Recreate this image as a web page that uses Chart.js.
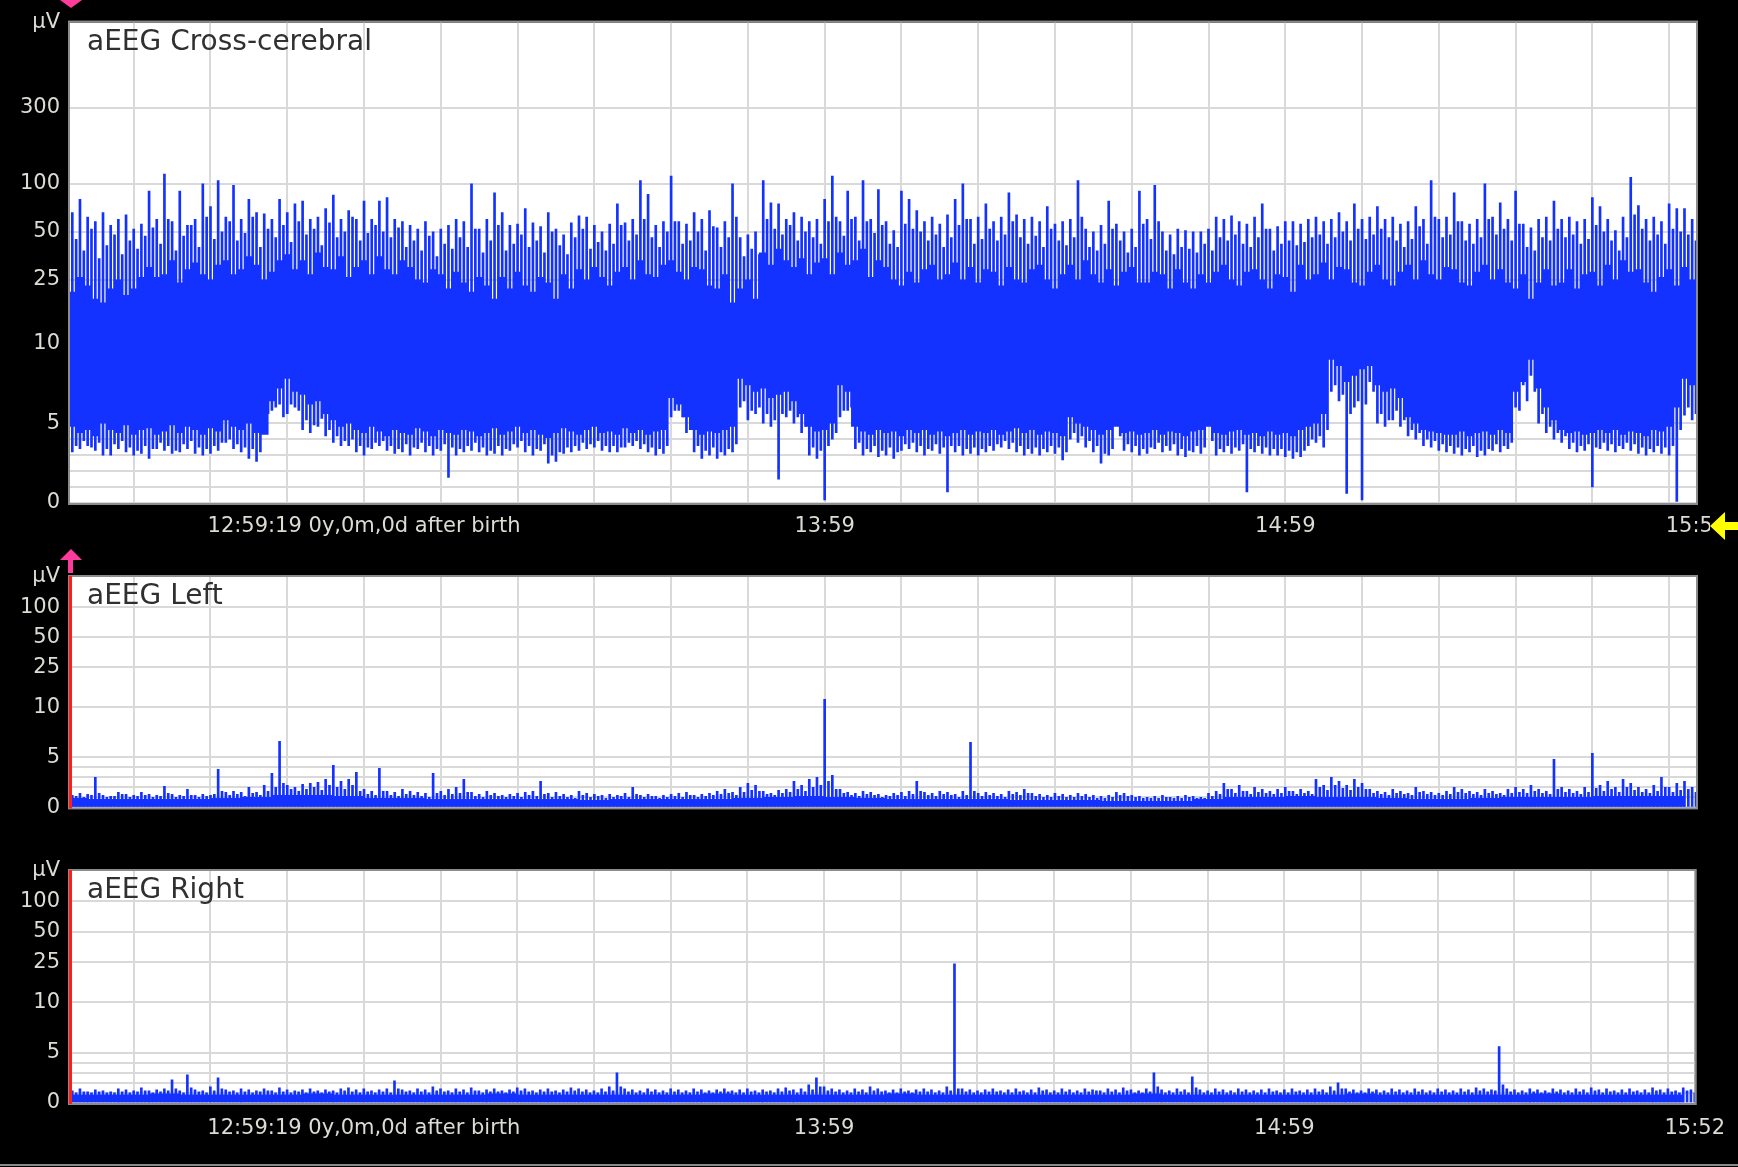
<!DOCTYPE html>
<html>
<head>
<meta charset="utf-8">
<title>aEEG trend</title>
<script src="https://cdn.jsdelivr.net/npm/chart.js@4/dist/chart.umd.min.js"></script>
<style>
  html, body { margin: 0; padding: 0; background: #000; overflow: hidden; }
  body { width: 1738px; height: 1167px; position: relative; }
  canvas { position: absolute; left: 0; }
</style>
</head>
<body>
<canvas id="crossChart" width="1738" height="540" style="top:0"></canvas>
<canvas id="leftChart" width="1738" height="290" style="top:540px"></canvas>
<canvas id="rightChart" width="1738" height="337" style="top:830px"></canvas>
<script>
// minutes relative to 12:59:19, one sample per minute from -38
const startMinute = -38;

const xGridMinutes = [-30, -20, -10, 0, 10, 20, 30, 40, 50, 60, 70, 80, 90, 100, 110, 120, 130, 140, 150, 160, 170, 173.5];
const xLabelMinutes = [0, 60, 120, 173.5];
const xLabelTexts = ["12:59:19 0y,0m,0d after birth", "13:59", "14:59", "15:52"];

const crossTicks = [0, 1, 2, 3, 4, 5, 10, 25, 50, 100, 300, 1025];
const crossTickLabels = [0, 5, 10, 25, 50, 100, 300];
const sideTicks = [0, 1, 2, 3, 4, 5, 10, 25, 50, 100, 200];
const sideTickLabels = [0, 5, 10, 25, 50, 100];

// aEEG Cross-cerebral (µV)
// tallest / lowest column in each minute
const crossHi = [
  66, 80, 62, 58, 66, 55, 60, 64, 52, 56,
  90, 60, 115, 58, 90, 55, 60, 100, 72, 105,
  62, 98, 60, 80, 66, 65, 60, 80, 66, 75,
  78, 60, 62, 70, 85, 60, 68, 60, 78, 60,
  78, 82, 60, 58, 55, 52, 58, 50, 52, 55,
  60, 58, 100, 52, 60, 88, 66, 55, 56, 70,
  57, 54, 66, 52, 48, 57, 63, 62, 55, 50,
  56, 75, 57, 60, 105, 86, 55, 58, 112, 58,
  56, 66, 60, 68, 53, 58, 100, 46, 48, 50,
  105, 76, 75, 60, 66, 62, 58, 60, 80, 112,
  58, 90, 62, 105, 60, 92, 58, 51, 90, 80,
  68, 58, 62, 56, 64, 80, 100, 60, 62, 75,
  58, 62, 88, 64, 60, 62, 58, 72, 56, 58,
  60, 105, 52, 50, 55, 78, 56, 50, 52, 90,
  60, 98, 50, 48, 52, 51, 50, 50, 52, 62,
  60, 63, 58, 56, 62, 75, 52, 54, 58, 58,
  56, 60, 62, 58, 60, 66, 58, 75, 60, 62,
  72, 60, 62, 56, 58, 72, 60, 105, 60, 62,
  88, 58, 56, 60, 100, 62, 76, 60, 90, 56,
  53, 60, 62, 78, 60, 62, 58, 60, 82, 72,
  60, 51, 62, 110, 73, 60, 62, 58, 75, 70,
  70, 60
];
const crossLo = [
  3.2, 3.4, 3.6, 3.3, 3.0, 3.0, 3.4, 3.2, 3.0, 3.1,
  2.8, 3.4, 3.3, 3.1, 3.2, 3.4, 3.1, 3.0, 3.1, 3.3,
  3.8, 3.4, 3.2, 2.8, 2.6, 5.2, 5.8, 6.2, 5.6, 6.0,
  4.6, 4.4, 4.8, 4.2, 3.8, 3.6, 3.6, 3.2, 3.0, 3.4,
  3.6, 3.3, 3.1, 3.2, 3.0, 3.4, 3.2, 3.0, 3.3, 1.6,
  3.0, 3.2, 3.3, 3.2, 3.0, 3.1, 3.0, 3.3, 3.5, 3.2,
  3.0, 3.3, 2.5, 2.6, 3.1, 3.2, 3.3, 3.4, 3.5, 3.3,
  3.2, 3.2, 3.5, 3.6, 3.4, 3.2, 3.0, 3.1, 5.4, 5.8,
  4.4, 3.2, 2.8, 3.0, 2.8, 3.0, 3.2, 6.0, 5.2, 5.6,
  5.0, 4.8, 1.5, 5.4, 5.0, 4.4, 3.0, 2.8, 0.2, 4.0,
  5.4, 5.8, 3.4, 3.0, 3.2, 2.9, 3.0, 2.8, 3.3, 3.4,
  3.2, 3.0, 3.3, 3.1, 0.7, 3.2, 3.0, 3.1, 3.0, 3.2,
  3.3, 3.5, 3.4, 3.2, 3.0, 3.1, 3.0, 3.2, 3.1, 2.7,
  4.0, 3.8, 3.5, 3.2, 2.5, 3.0, 5.8, 3.3, 3.2, 3.0,
  3.1, 3.4, 3.2, 3.3, 3.0, 2.9, 3.2, 3.1, 6.2, 3.0,
  3.2, 3.1, 3.3, 0.7, 3.2, 3.1, 3.0, 3.0, 2.9, 2.8,
  2.9, 3.6, 3.8, 3.5, 7.0, 6.4, 0.6, 6.0, 0.2, 7.6,
  5.0, 4.8, 5.2, 4.8, 4.2, 4.0, 3.6, 3.5, 3.3, 3.2,
  3.1, 3.0, 3.2, 2.9, 3.0, 3.3, 3.2, 3.4, 6.0, 7.4,
  8.0, 5.0, 4.4, 4.0, 3.8, 3.4, 3.2, 3.3, 1.0, 3.4,
  3.3, 3.2, 3.4, 3.3, 3.1, 3.0, 3.2, 3.1, 3.0, 0.1,
  5.5, 5.2
];
// in-between columns, half a minute later
const crossHiB = [
  45, 38, 52, 34, 41, 48, 36, 44, 39, 47,
  53, 42, 60, 38, 47, 55, 40, 62, 45, 50,
  58, 44, 49, 62, 40, 52, 46, 55, 43, 58,
  48, 52, 41, 57, 46, 50, 62, 44, 49, 55,
  50, 46, 53, 40, 44, 38, 47, 35, 42, 39,
  46, 40, 52, 37, 44, 55, 38, 42, 48, 40,
  44, 37, 50, 41, 36, 46, 52, 39, 43, 38,
  42, 55, 44, 48, 60, 46, 40, 50, 58, 42,
  44, 50, 38, 54, 40, 46, 62, 35, 39, 36,
  60, 52, 48, 55, 44, 50, 46, 42, 58, 62,
  47, 60, 44, 58, 49, 55, 42, 40, 56, 52,
  50, 44, 48, 40, 46, 55, 60, 42, 45, 52,
  44, 48, 58, 46, 42, 47, 40, 52, 44, 41,
  46, 62, 40, 38, 42, 52, 44, 37, 40, 56,
  45, 58, 38, 36, 40, 39, 37, 42, 38, 46,
  44, 48, 42, 40, 46, 52, 38, 42, 44, 41,
  43, 46, 48, 42, 46, 50, 44, 52, 45, 48,
  52, 46, 44, 40, 45, 54, 42, 62, 46, 48,
  58, 44, 42, 46, 60, 48, 52, 44, 56, 40,
  38, 46, 44, 52, 46, 48, 42, 45, 55, 50,
  44, 38, 46, 64, 52, 44, 48, 42, 52, 50,
  48, 44
];
const crossLoB = [
  3.6, 3.9, 3.5, 3.8, 3.4, 3.7, 3.9, 3.5, 3.3, 3.6,
  3.4, 3.8, 3.6, 3.3, 3.7, 3.9, 3.5, 3.4, 3.6, 3.8,
  4.0, 3.7, 3.5, 3.4, 3.2, 5.6, 6.0, 5.4, 6.2, 5.8,
  5.2, 4.9, 5.3, 4.6, 4.2, 3.9, 4.0, 3.6, 3.5, 3.8,
  3.9, 3.6, 3.4, 3.7, 3.5, 3.8, 3.6, 3.4, 3.7, 3.5,
  3.4, 3.6, 3.8, 3.5, 3.3, 3.6, 3.4, 3.7, 3.9, 3.6,
  3.4, 3.7, 3.0, 3.2, 3.5, 3.6, 3.8, 3.7, 3.9, 3.6,
  3.6, 3.5, 3.8, 3.9, 3.7, 3.5, 3.4, 3.6, 5.8, 5.4,
  4.6, 3.6, 3.3, 3.5, 3.2, 3.4, 3.7, 6.4, 5.8, 6.0,
  5.6, 5.2, 5.6, 5.8, 5.4, 4.8, 3.5, 3.3, 3.6, 4.4,
  5.8, 6.0, 3.8, 3.4, 3.6, 3.3, 3.5, 3.2, 3.7, 3.8,
  3.6, 3.4, 3.7, 3.5, 3.6, 3.6, 3.4, 3.5, 3.4, 3.6,
  3.7, 3.9, 3.8, 3.6, 3.4, 3.5, 3.4, 3.6, 3.5, 3.2,
  4.4, 4.2, 3.9, 3.6, 3.1, 3.4, 4.2, 3.7, 3.6, 3.4,
  3.5, 3.8, 3.6, 3.7, 3.4, 3.3, 3.6, 3.5, 3.9, 3.4,
  3.6, 3.5, 3.7, 3.4, 3.6, 3.5, 3.4, 3.4, 3.3, 3.2,
  3.3, 4.0, 4.2, 4.6, 7.4, 6.8, 5.6, 6.4, 6.2, 7.0,
  5.6, 5.2, 5.8, 5.2, 4.6, 4.4, 4.0, 3.9, 3.7, 3.6,
  3.5, 3.4, 3.6, 3.3, 3.4, 3.7, 3.6, 3.8, 5.8, 6.4,
  7.0, 5.6, 4.8, 4.4, 4.2, 3.8, 3.6, 3.7, 3.5, 3.8,
  3.7, 3.6, 3.8, 3.7, 3.5, 3.4, 3.6, 3.5, 3.6, 4.6,
  6.0, 5.6
];
// solid part of the band, per minute
const crossCoreHi = [
  21, 26, 23, 19, 18, 22, 25, 20, 22, 26,
  30, 26, 27, 33, 24, 29, 32, 27, 25, 31,
  33, 27, 29, 35, 31, 25, 28, 33, 36, 29,
  33, 27, 37, 30, 29, 35, 26, 30, 33, 27,
  35, 29, 27, 33, 30, 25, 24, 29, 27, 22,
  28, 24, 21, 26, 23, 19, 26, 22, 28, 23,
  21, 26, 24, 19, 27, 22, 29, 25, 30, 26,
  23, 28, 30, 25, 33, 27, 26, 31, 33, 28,
  25, 30, 29, 23, 22, 27, 18, 22, 25, 19,
  37, 31, 39, 33, 30, 34, 27, 32, 34, 27,
  37, 31, 33, 39, 26, 33, 30, 25, 23, 28,
  24, 29, 31, 25, 27, 32, 25, 30, 24, 29,
  28, 23, 30, 25, 24, 29, 31, 25, 22, 27,
  31, 25, 33, 27, 24, 29, 23, 28, 30, 24,
  24, 28, 27, 22, 29, 24, 22, 27, 24, 28,
  31, 25, 23, 28, 29, 25, 22, 27, 26, 21,
  31, 25, 27, 32, 25, 30, 29, 24, 23, 28,
  31, 25, 23, 28, 31, 25, 33, 27, 25, 30,
  29, 24, 23, 28, 31, 25, 29, 24, 22, 27,
  19, 24, 29, 23, 24, 29, 22, 27, 28, 23,
  31, 25, 33, 28, 29, 24, 21, 26, 29, 23,
  30, 25
];
const crossCoreLo = [
  4.8, 4.4, 4.6, 4.2, 5.0, 4.6, 4.4, 4.9, 4.3, 4.6,
  4.7, 4.3, 4.5, 4.9, 4.4, 4.8, 4.6, 4.3, 4.7, 4.5,
  5.2, 4.8, 4.6, 5.0, 4.4, 4.3, 6.4, 7.2, 7.8, 7.0,
  6.8, 6.2, 6.4, 5.6, 5.2, 4.8, 5.0, 4.6, 4.4, 4.8,
  4.5, 4.2, 4.6, 4.4, 4.3, 4.7, 4.5, 4.2, 4.6, 4.4,
  4.3, 4.6, 4.5, 4.2, 4.4, 4.7, 4.3, 4.5, 4.8, 4.4,
  4.6, 4.3, 4.1, 4.4, 4.7, 4.5, 4.3, 4.6, 4.8, 4.4,
  4.5, 4.3, 4.7, 4.4, 4.6, 4.3, 4.5, 4.6, 6.6, 6.2,
  5.4, 4.6, 4.3, 4.5, 4.4, 4.6, 4.8, 7.8, 7.4, 7.0,
  7.2, 6.6, 6.8, 7.0, 6.4, 5.6, 4.8, 4.5, 4.6, 5.0,
  7.4, 7.0, 4.8, 4.5, 4.3, 4.6, 4.4, 4.5, 4.2, 4.6,
  4.4, 4.6, 4.3, 4.5, 4.2, 4.4, 4.6, 4.3, 4.5, 4.4,
  4.6, 4.3, 4.5, 4.7, 4.4, 4.6, 4.3, 4.5, 4.4, 4.2,
  5.4, 5.0, 4.8, 4.6, 4.3, 4.6, 4.8, 4.4, 4.5, 4.3,
  4.4, 4.6, 4.3, 4.5, 4.4, 4.2, 4.5, 4.6, 4.8, 4.4,
  4.3, 4.5, 4.6, 4.3, 4.4, 4.2, 4.5, 4.3, 4.4, 4.2,
  4.6, 4.8, 5.0, 5.6, 9.0, 8.6, 7.6, 8.0, 8.4, 8.6,
  7.4, 7.0, 7.2, 6.6, 5.4, 5.0, 4.6, 4.5, 4.4, 4.3,
  4.3, 4.5, 4.2, 4.4, 4.5, 4.3, 4.6, 4.4, 7.0, 7.6,
  9.0, 7.2, 6.0, 5.2, 4.6, 4.4, 4.5, 4.3, 4.4, 4.6,
  4.4, 4.6, 4.3, 4.5, 4.4, 4.2, 4.6, 4.5, 4.8, 6.0,
  7.8, 7.4
];

// aEEG Left, per-minute max, in-between columns and 4-minute floor (µV)
const leftHi = [
  1.2, 1.4, 1.3, 3.0, 1.2, 1.1, 1.5, 1.3, 1.2, 1.5,
  1.3, 1.2, 2.1, 1.3, 1.2, 1.8, 1.2, 1.3, 1.2, 3.8,
  1.5, 1.6, 1.5, 2.0, 1.5, 2.2, 3.4, 6.6, 2.2, 2.0,
  2.3, 2.4, 2.5, 2.8, 4.2, 2.6, 2.8, 3.5, 1.8, 1.6,
  3.9, 1.6, 1.5, 1.8, 1.6, 1.5, 1.4, 3.4, 1.6, 1.8,
  2.0, 2.8, 1.5, 1.3, 1.6, 1.4, 1.2, 1.3, 1.4, 1.5,
  1.6, 2.6, 1.4, 1.5, 1.3, 1.2, 1.6, 1.4, 1.3, 1.2,
  1.3, 1.2, 1.4, 2.0, 1.2, 1.3, 1.1, 1.2, 1.3, 1.4,
  1.5, 1.2, 1.3, 1.4, 1.6, 1.8, 1.5, 2.0, 2.4, 2.2,
  1.6, 1.4, 1.7, 1.8, 2.6, 2.2, 2.8, 3.0, 12.0, 3.2,
  1.8, 1.5, 1.4, 1.6, 1.5, 1.3, 1.2, 1.4, 1.5, 1.6,
  2.6, 1.5, 1.4, 1.6, 1.5, 1.3, 1.6, 6.5, 1.4, 1.5,
  1.4, 1.3, 1.6, 1.5, 1.8, 1.4, 1.3, 1.2, 1.4, 1.3,
  1.2, 1.4, 1.3, 1.2, 1.1, 1.2, 1.5, 1.4, 1.2, 1.1,
  1.0, 1.1, 1.2, 1.0, 1.1, 1.2, 1.1, 1.0, 1.4, 1.6,
  2.4, 1.8, 2.2, 1.6, 2.0, 1.8, 1.6, 1.8, 2.0, 1.6,
  1.8, 1.6, 2.8, 2.2, 3.0, 2.6, 2.2, 2.8, 2.4, 1.8,
  1.6, 1.5, 1.8, 1.6, 1.4, 2.0, 1.6, 1.5, 1.4, 1.6,
  2.0, 1.8, 1.6, 1.5, 1.8, 1.6, 1.4, 1.8, 2.0, 1.8,
  2.2, 1.8, 1.6, 4.8, 2.0, 1.8, 1.6, 2.0, 5.4, 2.2,
  2.6, 2.0, 2.8, 2.4, 2.0, 1.8, 2.2, 3.0, 2.0, 2.4,
  2.6, 2.0
];
const leftHiB = [
  1.1, 1.0, 1.2, 1.4, 1.0, 1.1, 1.3, 1.0, 1.1, 1.2,
  1.0, 1.1, 1.4, 1.0, 1.1, 1.2, 1.0, 1.1, 1.3, 1.6,
  1.2, 1.3, 1.1, 1.4, 1.2, 1.6, 2.0, 2.4, 1.8, 1.6,
  1.8, 2.0, 1.7, 2.2, 2.0, 1.8, 2.2, 1.6, 1.3, 1.2,
  1.6, 1.2, 1.1, 1.3, 1.2, 1.1, 1.0, 1.4, 1.2, 1.3,
  1.4, 1.5, 1.1, 1.0, 1.2, 1.1, 1.0, 1.1, 1.0, 1.2,
  1.1, 1.3, 1.0, 1.1, 1.0, 0.9, 1.2, 1.0, 1.1, 0.9,
  1.0, 1.1, 1.0, 1.3, 1.0, 1.1, 0.9, 1.0, 1.1, 1.0,
  1.2, 1.0, 1.1, 1.2, 1.3, 1.4, 1.2, 1.5, 1.7, 1.6,
  1.3, 1.2, 1.4, 1.5, 1.8, 1.6, 2.0, 2.2, 2.6, 1.8,
  1.4, 1.2, 1.1, 1.3, 1.2, 1.0, 1.1, 1.2, 1.1, 1.3,
  1.6, 1.2, 1.1, 1.3, 1.2, 1.0, 1.2, 1.6, 1.1, 1.2,
  1.1, 1.0, 1.3, 1.2, 1.4, 1.1, 1.0, 1.0, 1.1, 1.0,
  1.0, 1.1, 1.0, 0.9, 0.9, 1.0, 1.2, 1.1, 1.0, 0.9,
  0.9, 0.9, 1.0, 0.9, 0.9, 1.0, 0.9, 0.9, 1.1, 1.3,
  1.8, 1.4, 1.6, 1.3, 1.5, 1.4, 1.3, 1.4, 1.6, 1.3,
  1.4, 1.3, 2.0, 1.7, 2.2, 1.9, 1.7, 2.0, 1.8, 1.4,
  1.3, 1.2, 1.4, 1.3, 1.2, 1.5, 1.3, 1.2, 1.2, 1.3,
  1.5, 1.4, 1.3, 1.2, 1.4, 1.3, 1.2, 1.4, 1.5, 1.4,
  1.6, 1.4, 1.3, 1.8, 1.5, 1.4, 1.3, 1.5, 1.9, 1.6,
  1.8, 1.5, 2.0, 1.7, 1.5, 1.4, 1.6, 2.0, 1.5, 1.7,
  1.8, 1.5
];
const leftBase = [
  0.9, 0.8, 0.8, 0.8, 0.8, 0.9, 1.0, 1.2, 1.2, 1.1,
  0.9, 0.9, 0.8, 0.8, 0.8, 0.8, 0.8, 0.7, 0.8, 0.8,
  0.8, 0.8, 0.9, 1.0, 1.1, 1.0, 0.9, 0.8, 0.8, 0.8,
  0.8, 0.7, 0.7, 0.7, 0.6, 0.6, 0.6, 0.8, 1.0, 1.0,
  1.1, 1.0, 1.0, 0.9, 0.8, 0.8, 0.9, 1.0, 1.0, 1.0,
  1.1, 1.1, 1.1
];

// aEEG Right
const rightHi = [
  1.2, 1.4, 1.1, 1.3, 1.2, 1.1, 1.4, 1.3, 1.2, 1.5,
  1.2, 1.3, 1.4, 2.3, 1.2, 2.8, 1.3, 1.2, 1.6, 2.5,
  1.3, 1.2, 1.4, 1.3, 1.2, 1.4, 1.2, 1.5, 1.3, 1.2,
  1.3, 1.4, 1.2, 1.3, 1.2, 1.4, 1.5, 1.3, 1.4, 1.2,
  1.3, 1.4, 2.2, 1.3, 1.2, 1.4, 1.3, 1.6, 1.4, 1.2,
  1.4, 1.3, 1.5, 1.2, 1.3, 1.4, 1.2, 1.3, 1.5, 1.4,
  1.2, 1.3, 1.4, 1.2, 1.3, 1.5, 1.4, 1.3, 1.2, 1.4,
  1.6, 3.0, 1.4, 1.3, 1.2, 1.4, 1.3, 1.2, 1.4, 1.3,
  1.2, 1.4, 1.3, 1.2, 1.3, 1.4, 1.2, 1.3, 1.4, 1.2,
  1.3, 1.2, 1.4, 1.5, 1.3, 1.4, 1.8, 2.5, 1.6, 1.4,
  1.3, 1.2, 1.4, 1.3, 1.6, 1.4, 1.2, 1.3, 1.4, 1.2,
  1.3, 1.4, 1.3, 1.2, 1.6, 24.0, 1.4, 1.3, 1.2, 1.3,
  1.4, 1.2, 1.3, 1.4, 1.2, 1.3, 1.5, 1.3, 1.2, 1.4,
  1.3, 1.2, 1.4, 1.3, 1.2, 1.4, 1.3, 1.5, 1.3, 1.2,
  1.4, 3.0, 1.3, 1.2, 1.4, 1.3, 2.6, 1.3, 1.2, 1.4,
  1.3, 1.2, 1.4, 1.3, 1.2, 1.3, 1.4, 1.2, 1.3, 1.4,
  1.2, 1.3, 1.4, 1.3, 1.6, 2.0, 1.4, 1.3, 1.2, 1.4,
  1.3, 1.2, 1.4, 1.3, 1.2, 1.4, 1.3, 1.2, 1.4, 1.3,
  1.2, 1.4, 1.3, 1.5, 1.4, 1.3, 5.6, 1.4, 1.3, 1.2,
  1.4, 1.3, 1.2, 1.4, 1.3, 1.2, 1.4, 1.3, 1.5, 1.3,
  1.4, 1.2, 1.3, 1.4, 1.2, 1.3, 1.5, 1.3, 1.4, 1.2,
  1.5, 1.3
];
const rightHiB = [
  1.0, 1.1, 1.0, 1.1, 1.0, 1.0, 1.1, 1.0, 1.1, 1.2,
  1.0, 1.1, 1.2, 1.4, 1.0, 1.5, 1.1, 1.0, 1.2, 1.4,
  1.1, 1.0, 1.1, 1.0, 1.1, 1.2, 1.0, 1.1, 1.0, 1.1,
  1.0, 1.1, 1.0, 1.1, 1.0, 1.2, 1.1, 1.0, 1.1, 1.0,
  1.1, 1.0, 1.4, 1.1, 1.0, 1.1, 1.0, 1.2, 1.1, 1.0,
  1.1, 1.0, 1.2, 1.0, 1.1, 1.1, 1.0, 1.1, 1.2, 1.1,
  1.0, 1.1, 1.1, 1.0, 1.1, 1.2, 1.1, 1.0, 1.0, 1.1,
  1.2, 1.6, 1.1, 1.0, 1.0, 1.1, 1.0, 1.0, 1.1, 1.0,
  1.0, 1.1, 1.0, 1.0, 1.1, 1.1, 1.0, 1.0, 1.1, 1.0,
  1.1, 1.0, 1.1, 1.2, 1.0, 1.1, 1.3, 1.6, 1.2, 1.1,
  1.0, 1.0, 1.1, 1.0, 1.2, 1.1, 1.0, 1.0, 1.1, 1.0,
  1.1, 1.1, 1.0, 1.0, 1.2, 1.4, 1.1, 1.0, 1.0, 1.1,
  1.1, 1.0, 1.0, 1.1, 1.0, 1.0, 1.2, 1.0, 1.0, 1.1,
  1.0, 1.0, 1.1, 1.2, 1.0, 1.1, 1.0, 1.2, 1.0, 1.0,
  1.1, 1.6, 1.0, 1.0, 1.1, 1.0, 1.5, 1.0, 1.0, 1.1,
  1.0, 1.0, 1.1, 1.0, 1.0, 1.0, 1.1, 1.0, 1.0, 1.1,
  1.0, 1.0, 1.1, 1.0, 1.2, 1.4, 1.1, 1.0, 1.0, 1.1,
  1.0, 1.0, 1.1, 1.0, 1.0, 1.1, 1.0, 1.0, 1.1, 1.0,
  1.0, 1.1, 1.0, 1.2, 1.1, 1.2, 1.8, 1.1, 1.0, 1.0,
  1.1, 1.0, 1.0, 1.1, 1.0, 1.0, 1.1, 1.0, 1.2, 1.0,
  1.1, 1.0, 1.0, 1.1, 1.0, 1.0, 1.2, 1.0, 1.1, 1.0,
  1.2, 1.0
];
const rightBase = [
  0.8, 0.8, 0.8, 0.9, 0.8, 0.8, 0.8, 0.8, 0.9, 0.8,
  0.8, 0.8, 0.8, 0.8, 0.9, 0.8, 0.8, 0.8, 0.8, 0.8,
  0.8, 0.9, 0.8, 0.8, 0.8, 0.8, 0.8, 0.9, 0.8, 0.8,
  0.8, 0.8, 0.8, 0.8, 0.8, 0.9, 0.8, 0.8, 0.8, 0.8,
  0.8, 0.8, 0.9, 0.8, 0.8, 0.8, 0.8, 0.8, 0.9, 0.8,
  0.8, 0.8, 0.8
];

const TRACE = "#1432ff";
const GRID = "#d9d9d9";
const TEXT = "#dcdcd4";
const FONT = "DejaVu Sans";
const X_MIN = -38.3;
const X_MAX = 173.5;

// linear from 0 to 10 µV, logarithmic above (one decade = the 0-10 span)
const toUnit = (v) => (v <= 10 ? v / 10 : 1 + Math.log10(v / 10));
const fromUnit = (u) => (u <= 1 ? u * 10 : 10 * Math.pow(10, u - 1));

class LinLogScale extends Chart.LinearScale {
  static id = "linlog";
  determineDataLimits() {
    this.min = 0;
    this.max = this.options.max;
  }
  getPixelForValue(value) {
    return this.getPixelForDecimal(toUnit(value) / toUnit(this.max));
  }
  getValueForPixel(pixel) {
    return fromUnit(this.getDecimalForPixel(pixel) * toUnit(this.max));
  }
}
Chart.register(LinLogScale);

const points = (values, step, shift = 0) =>
  values.map((v, i) => ({ x: startMinute + shift + i * step, y: v }));
const ranges = (los, his, step, shift = 0) =>
  his.map((h, i) => ({ x: startMinute + shift + i * step, y: [los[i], h] }));

const panelPlugin = (cfg) => ({
  id: "panel",
  beforeDraw(chart) {
    const { ctx, chartArea: a } = chart;
    ctx.save();
    ctx.fillStyle = "#fff";
    ctx.fillRect(a.left, a.top, a.right - a.left, a.bottom - a.top);
    ctx.restore();
  },
  afterDraw(chart) {
    const { ctx, chartArea: a } = chart;
    ctx.save();
    ctx.strokeStyle = "#8c8c8c";
    ctx.lineWidth = 2;
    ctx.strokeRect(a.left - 1, a.top - 1, a.right - a.left + 2, a.bottom - a.top + 2);
    if (cfg.redEdge) {
      ctx.fillStyle = "#ff1e1e";
      ctx.fillRect(a.left - 1, a.top - 1, 3, a.bottom - a.top + 2);
    }
    ctx.fillStyle = "#303030";
    ctx.font = `28px "${FONT}"`;
    ctx.textBaseline = "middle";
    ctx.fillText(cfg.title, a.left + 17, a.top + 20);
    if (cfg.decorate) cfg.decorate(ctx, a, chart);
    ctx.restore();
  },
});

const buildChart = (id, cfg) =>
  new Chart(document.getElementById(id), {
    type: "bar",
    data: {
      datasets: cfg.datasets.map((d) => ({
        data: d.data,
        barThickness: d.thickness,
        grouped: false,
        backgroundColor: TRACE,
        borderWidth: 0,
      })),
    },
    options: {
      responsive: false,
      animation: false,
      devicePixelRatio: 1,
      layout: { padding: { left: 0, right: 42, top: cfg.padTop, bottom: 0 } },
      plugins: { legend: { display: false }, tooltip: { enabled: false } },
      scales: {
        x: {
          type: "linear",
          min: X_MIN,
          max: X_MAX,
          offset: false,
          border: { display: false },
          grid: {
            offset: false,
            drawTicks: false,
            lineWidth: 2,
            color: (ctx) => (ctx.tick && ctx.tick.value === X_MAX ? "rgba(0,0,0,0)" : GRID),
          },
          ticks: {
            display: cfg.xLabels,
            autoSkip: false,
            maxRotation: 0,
            padding: cfg.xPad,
            color: TEXT,
            font: { family: FONT, size: 21 },
            callback: (v) => {
              const i = xLabelMinutes.indexOf(v);
              return i < 0 ? "" : xLabelTexts[i];
            },
          },
          afterBuildTicks: (s) => { s.ticks = xGridMinutes.map((value) => ({ value })); },
          afterFit: (s) => { s.height = cfg.xHeight; },
        },
        y: {
          type: "linlog",
          min: 0,
          max: cfg.yMax,
          border: { display: false },
          grid: {
            drawTicks: false,
            lineWidth: 2,
            color: (ctx) => (ctx.tick && ctx.tick.value === cfg.yMax ? "rgba(0,0,0,0)" : GRID),
          },
          ticks: {
            autoSkip: false,
            padding: 10,
            color: TEXT,
            font: { family: FONT, size: 21 },
            callback: (v) => (v === cfg.yMax ? "µV" : cfg.yLabels.includes(v) ? String(v) : ""),
          },
          afterBuildTicks: (s) => { s.ticks = cfg.yTicks.map((value) => ({ value })); },
          afterFit: (s) => { s.width = 70; },
        },
      },
    },
    plugins: [panelPlugin(cfg)],
  });

buildChart("crossChart", {
  title: "aEEG Cross-cerebral",
  padTop: 14,
  xHeight: 37,
  xPad: 11,
  xLabels: true,
  yMax: 1025,
  yTicks: crossTicks,
  yLabels: crossTickLabels,
  datasets: [
    { data: ranges(crossLo, crossHi, 1), thickness: 2 },
    { data: ranges(crossLoB, crossHiB, 1, 0.5), thickness: 2 },
    { data: ranges(crossCoreLo, crossCoreHi, 1), thickness: 8 },
  ],
  decorate: (ctx, a) => {
    ctx.fillStyle = "#ff3c9c";
    ctx.beginPath();
    ctx.moveTo(a.left - 10, 0);
    ctx.lineTo(a.left + 12, 0);
    ctx.lineTo(a.left + 1, 8);
    ctx.closePath();
    ctx.fill();
    ctx.fillStyle = "#000";
    ctx.fillRect(1710, 506, 28, 36);
    ctx.fillStyle = "#ffff00";
    ctx.beginPath();
    ctx.moveTo(1710, 526);
    ctx.lineTo(1725, 512);
    ctx.lineTo(1725, 522);
    ctx.lineTo(1738, 522);
    ctx.lineTo(1738, 530);
    ctx.lineTo(1725, 530);
    ctx.lineTo(1725, 540);
    ctx.closePath();
    ctx.fill();
  },
});

buildChart("leftChart", {
  title: "aEEG Left",
  padTop: 37,
  xHeight: 21,
  xPad: 0,
  xLabels: false,
  redEdge: true,
  yMax: 200,
  yTicks: sideTicks,
  yLabels: sideTickLabels,
  datasets: [
    { data: points(leftHi, 1), thickness: 2 },
    { data: points(leftHiB, 1, 0.5), thickness: 2 },
    { data: points(leftBase, 4), thickness: 31 },
  ],
  decorate: (ctx, a) => {
    ctx.fillStyle = "#ff3c9c";
    ctx.beginPath();
    ctx.moveTo(a.left + 1, 9);
    ctx.lineTo(a.left - 10, 20);
    ctx.lineTo(a.left + 12, 20);
    ctx.closePath();
    ctx.fill();
    ctx.fillRect(a.left - 2, 19, 5, 14);
  },
});

buildChart("rightChart", {
  title: "aEEG Right",
  padTop: 41,
  xHeight: 64,
  xPad: 13,
  xLabels: true,
  redEdge: true,
  yMax: 200,
  yTicks: sideTicks,
  yLabels: sideTickLabels,
  datasets: [
    { data: points(rightHi, 1), thickness: 2 },
    { data: points(rightHiB, 1, 0.5), thickness: 2 },
    { data: points(rightBase, 4), thickness: 31 },
  ],
  decorate: (ctx) => {
    ctx.fillStyle = "#8a8a8a";
    ctx.fillRect(0, 334, 1738, 2);
  },
});
</script>
</body>
</html>
